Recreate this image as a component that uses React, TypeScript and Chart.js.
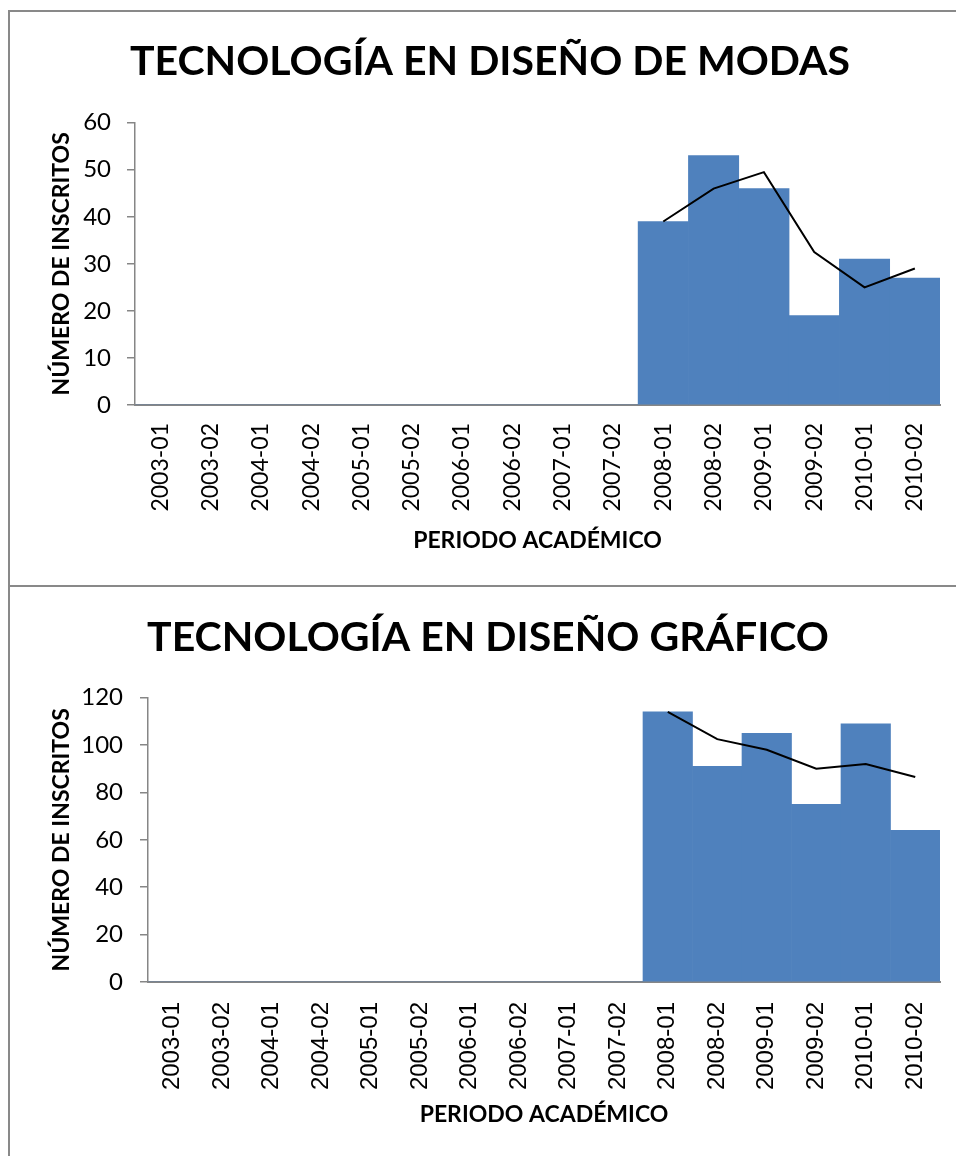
import React, { useEffect, useRef } from "react";
import { Chart, registerables } from "chart.js";

Chart.register(...registerables);

const periods = [
  "2003-01", "2003-02", "2004-01", "2004-02", "2005-01", "2005-02", "2006-01", "2006-02",
  "2007-01", "2007-02", "2008-01", "2008-02", "2009-01", "2009-02", "2010-01", "2010-02",
];

const modasTitle = "TECNOLOGÍA EN DISEÑO DE MODAS";
const modasInscritos = [0, 0, 0, 0, 0, 0, 0, 0, 0, 0, 39, 53, 46, 19, 31, 27];
const modasTendencia = [null, null, null, null, null, null, null, null, null, null, 39, 46, 49.5, 32.5, 25, 29];
const modasTicks = { min: 0, max: 60, step: 10 };

const graficoTitle = "TECNOLOGÍA EN DISEÑO GRÁFICO";
const graficoInscritos = [0, 0, 0, 0, 0, 0, 0, 0, 0, 0, 114, 91, 105, 75, 109, 64];
const graficoTendencia = [null, null, null, null, null, null, null, null, null, null, 114, 102.5, 98, 90, 92, 86.5];
const graficoTicks = { min: 0, max: 120, step: 20 };

const yTitle = "NÚMERO DE INSCRITOS";
const xTitle = "PERIODO ACADÉMICO";

const AXIS = "#868686";
const BAR = "#4F81BD";

type Layout = {
  padLeft: number;
  padRight: number;
  yWidth: number;
  yTitlePad: number;
  yTickPad: number;
  xHeight: number;
  xTitlePad: number;
  xTickPad: number;
  xTickFont: { family: string; size: number };
  titleSize: number;
  titleCenter: number;
  chartTop: number;
};

function buildConfig(title: string, bars: number[], line: (number | null)[], ticks: { min: number; max: number; step: number }, L: Layout): any {
  const lh = L.titleSize * 1.2;
  const padTop = L.titleCenter - lh / 2;
  const padBottom = L.chartTop - padTop - lh;
  return {
    type: "bar",
    data: {
      labels: periods,
      datasets: [
        {
          type: "line",
          data: line,
          borderColor: "#000000",
          borderWidth: 2,
          pointRadius: 0,
          tension: 0,
          fill: false,
          order: 0,
        },
        {
          type: "bar",
          data: bars,
          backgroundColor: BAR,
          borderWidth: 0,
          barPercentage: 1,
          categoryPercentage: 1,
          order: 1,
        },
      ],
    },
    options: {
      animation: false,
      responsive: false,
      maintainAspectRatio: false,
      layout: { padding: { left: L.padLeft, right: L.padRight, top: 0, bottom: 0 } },
      plugins: {
        legend: { display: false },
        tooltip: { enabled: false },
        title: {
          display: true,
          text: title,
          color: "#000000",
          font: { family: "Lato", size: L.titleSize, weight: "bold", lineHeight: 1.2 },
          padding: { top: padTop, bottom: padBottom },
        },
      },
      scales: {
        x: {
          afterFit: (s: any) => {
            s.height = L.xHeight;
            s.paddingLeft = 0;
            s.paddingRight = 0;
          },
          grid: { display: true, drawOnChartArea: false, drawTicks: false },
          border: { display: true, color: AXIS, width: 2 },
          ticks: {
            autoSkip: false,
            minRotation: 90,
            maxRotation: 90,
            padding: L.xTickPad,
            color: "#000000",
            font: L.xTickFont,
          },
          title: {
            display: true,
            text: xTitle,
            color: "#000000",
            font: { family: "Lato", size: 23, weight: "bold", lineHeight: 1.2 },
            padding: { top: 0, bottom: L.xTitlePad },
          },
        },
        y: {
          min: ticks.min,
          max: ticks.max,
          afterFit: (s: any) => {
            s.width = L.yWidth;
            s.paddingTop = 0;
            s.paddingBottom = 0;
          },
          grid: { display: true, drawOnChartArea: false, drawTicks: true, tickLength: 8, color: AXIS, lineWidth: 1.5 },
          border: { display: true, color: AXIS, width: 1.5 },
          ticks: {
            stepSize: ticks.step,
            padding: L.yTickPad,
            color: "#000000",
            font: { family: "Lato", size: 24 },
          },
          title: {
            display: true,
            text: yTitle,
            color: "#000000",
            font: { family: "Lato", size: 23, weight: "bold", lineHeight: 1.2 },
            padding: { top: L.yTitlePad, bottom: 0 },
          },
        },
      },
    },
  };
}

function ChartCanvas(props: { left: number; top: number; width: number; height: number; config: any }) {
  const ref = useRef<HTMLCanvasElement | null>(null);
  useEffect(() => {
    if (!ref.current) return;
    const chart = new Chart(ref.current, props.config);
    return () => chart.destroy();
  }, []);
  return (
    <canvas
      ref={ref}
      width={props.width}
      height={props.height}
      style={{ position: "absolute", left: props.left, top: props.top, width: props.width, height: props.height }}
    />
  );
}

export default function App() {
  const topLayout: Layout = {
    padLeft: 30, padRight: 16, yWidth: 95, yTitlePad: 8.2, yTickPad: 16,
    xHeight: 180, xTitlePad: 31, xTickPad: 18,
    xTickFont: { family: "Lato", size: 23 },
    titleSize: 41, titleCenter: 50, chartTop: 110.7,
  };
  const botLayout: Layout = {
    padLeft: 26, padRight: 16, yWidth: 112, yTitlePad: 12.2, yTickPad: 17,
    xHeight: 174, xTitlePad: 28, xTickPad: 20,
    xTickFont: { family: "Liberation Sans", size: 24 },
    titleSize: 41, titleCenter: 51, chartTop: 110.7,
  };
  const cfgTop = buildConfig(modasTitle, modasInscritos, modasTendencia, modasTicks, topLayout);
  const cfgBot = buildConfig(graficoTitle, graficoInscritos, graficoTendencia, graficoTicks, botLayout);
  return (
    <div>
      <style>{`html,body{overflow:hidden;background:#fff}`}</style>
      <div style={{ position: "absolute", left: 8, top: 10, width: 980, height: 1200, border: "2px solid #898989", boxSizing: "border-box" }} />
      <div style={{ position: "absolute", left: 8, top: 585, width: 980, height: 2, background: "#898989" }} />
      <ChartCanvas left={10} top={12} width={946} height={573} config={cfgTop} />
      <ChartCanvas left={10} top={587} width={946} height={569} config={cfgBot} />
    </div>
  );
}
